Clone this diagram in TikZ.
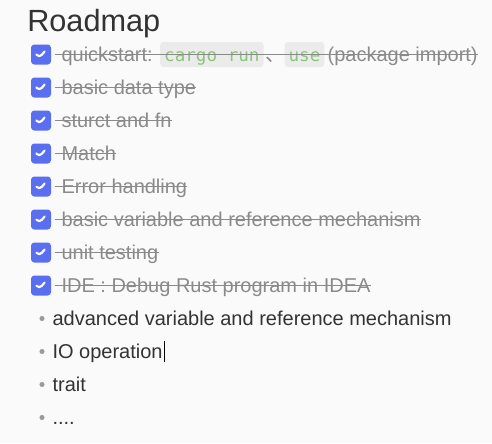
\documentclass[tikz,border=0pt]{standalone}
\usepackage{fontspec}
\setmainfont{Liberation Sans}
\newfontfamily\codefont{DejaVu Sans Mono}
\newfontfamily\cjk{Noto Sans CJK SC}
\usetikzlibrary{positioning}
\definecolor{pagebg}{HTML}{FAFAFA}
\definecolor{titlegray}{HTML}{333333}
\definecolor{donegray}{HTML}{8A8A8A}
\definecolor{tickblue}{HTML}{5A6EF0}
\definecolor{codebg}{HTML}{EBEBEB}
\definecolor{codegreen}{HTML}{8CC47C}
\definecolor{dotgray}{HTML}{9A9A9A}
\begin{document}
\begin{tikzpicture}[
  x=0.75pt, y=-0.75pt,
  title/.style={font=\fontsize{23}{28}\selectfont, text=titlegray, inner sep=0, anchor=base west},
  tickbox/.style={rectangle, fill=tickblue, rounded corners=2.5pt, minimum size=15pt, inner sep=0,
    path picture={\draw[white, line width=1.6pt, line cap=round, line join=round]
      ([xshift=-3.4pt]path picture bounding box.center) -- ++(2.25pt,-2.25pt) -- ++(3.9pt,4.5pt);}},
  done/.style={font=\fontsize{15}{18}\selectfont, text=donegray, inner sep=0, text height=13.5pt, text depth=3.45pt},
  todo/.style={font=\fontsize{15}{18}\selectfont, text=titlegray, inner sep=0, text height=13.5pt, text depth=3.45pt},
  code/.style={rectangle, fill=codebg, rounded corners=2.5pt, inner xsep=3pt, inner ysep=0, minimum height=18.75pt,
    font=\codefont\fontsize{13.2}{16}\selectfont, text=codegreen, text height=13.5pt, text depth=3.45pt},
  dot/.style={circle, fill=dotgray, minimum size=3.8pt, inner sep=0},
  strike/.style={donegray, line width=1.3pt},
  node distance=24.75pt
]
\useasboundingbox[fill=pagebg] (0,0) rectangle (492,443);

\node[title] (title) at (27,31) {Roadmap};

% done items
\node[tickbox] (c1) at (41,54.5) {};
\node[tickbox, below of=c1] (c2) {};
\node[tickbox, below of=c2] (c3) {};
\node[tickbox, below of=c3] (c4) {};
\node[tickbox, below of=c4] (c5) {};
\node[tickbox, below of=c5] (c6) {};
\node[tickbox, below of=c6] (c7) {};
\node[tickbox, below of=c7] (c8) {};

\node[done, right=7.5pt of c1] (quick) {quickstart:};
\node[code, right=5.25pt of quick] (cargo) {cargo run};
\node[done, right=1pt of cargo, font=\cjk\fontsize{15}{18}\selectfont] (comma) {、};
\node[code, right=-1pt of comma] (use) {use};
\node[done, right=2pt of use] (pkg) {(package import)};
\node[done, right=7.5pt of c2] (datatype) {basic data type};
\node[done, right=7.5pt of c3] (sturct) {sturct and fn};
\node[done, right=7.5pt of c4] (match) {Match};
\node[done, right=7.5pt of c5] (error) {Error handling};
\node[done, right=7.5pt of c6] (basicref) {basic variable and reference mechanism};
\node[done, right=7.5pt of c7] (unittest) {unit testing};
\node[done, right=7.5pt of c8] (ide) {IDE : Debug Rust program in IDEA};

\draw[strike] ([xshift=-4.5pt]quick.west) -- (pkg.east);
\draw[strike] ([xshift=-4.5pt]datatype.west) -- (datatype.east);
\draw[strike] ([xshift=-4.5pt]sturct.west) -- (sturct.east);
\draw[strike] ([xshift=-4.5pt]match.west) -- (match.east);
\draw[strike] ([xshift=-4.5pt]error.west) -- (error.east);
\draw[strike] ([xshift=-4.5pt]basicref.west) -- (basicref.east);
\draw[strike] ([xshift=-4.5pt]unittest.west) -- (unittest.east);
\draw[strike] ([xshift=-4.5pt]ide.west) -- (ide.east);

% open items
\node[dot] (d1) at (42,318.5) {};
\node[dot, below of=d1] (d2) {};
\node[dot, below of=d2] (d3) {};
\node[dot, below of=d3] (d4) {};

\node[todo, right=5.6pt of d1] (advref) {advanced variable and reference mechanism};
\node[todo, right=5.6pt of d2] (io) {IO operation};
\node[todo, right=5.6pt of d3] (trait) {trait};
\node[todo, right=5.6pt of d4] (more) {....};

% text cursor
\draw[black, line width=0.6pt] ([xshift=0.9pt,yshift=-1pt]io.north east) -- ([xshift=0.9pt,yshift=0.5pt]io.south east);
\end{tikzpicture}
\end{document}
